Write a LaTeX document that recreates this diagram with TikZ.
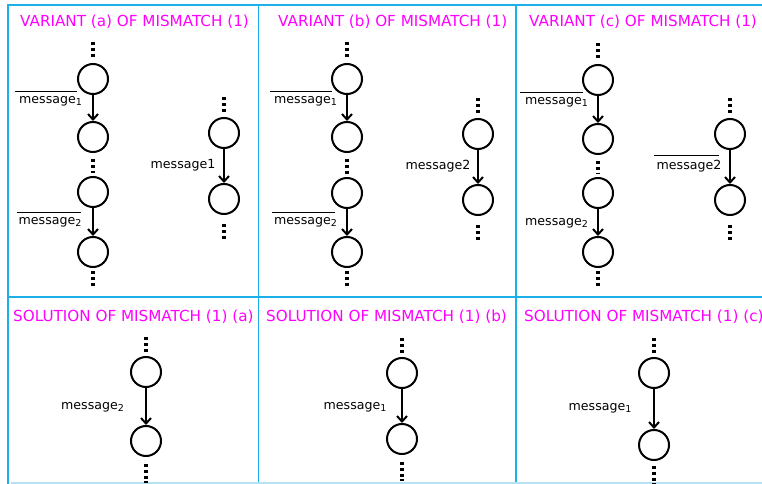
\documentclass[tikz,border=0pt]{standalone}
\usepackage{fontspec}
\setmainfont{DejaVu Sans}
\usetikzlibrary{arrows.meta,calc}
\definecolor{gridblue}{HTML}{1CB0E8}
\definecolor{gridpale}{HTML}{B4E2F2}
\definecolor{titlemag}{HTML}{FF00FF}
\newcommand\sbs[1]{\raisebox{-2.8bp}{\fontsize{9.5bp}{10bp}\selectfont #1}}
\newcommand\dup[3]{\draw[dotline] ($(#1.north)+(0,-#2)$) -- ++(0,-#3);}
\newcommand\ddown[3]{\draw[dotline] ($(#1.south)+(0,#2)$) -- ++(0,#3);}
\newcommand\dbetween[2]{\draw[dotline] ($(#1.south)+(0,6)$) -- ($(#2.north)+(0,-3)$);}
\begin{document}
\begin{tikzpicture}[x=1bp,y=-1bp,
 state/.style={circle,draw,line width=2bp,minimum size=30bp,inner sep=0pt},
 msg/.style={font=\fontsize{12.6bp}{14bp}\selectfont,inner sep=0pt},
 ttl/.style={font=\fontsize{15.2bp}{18bp}\selectfont,text=titlemag,inner sep=0pt,anchor=west},
 flow/.style={line width=2bp,-{Straight Barb[length=5.5bp,width=10bp]}},
 dotline/.style={line width=3.2bp,dash pattern=on 3.2bp off 2.6bp},
 bar/.style={line width=1bp},
 grid/.style={draw=gridblue,line width=1.3bp}]
\useasboundingbox (0,0) rectangle (762,484);
\clip (0,0) rectangle (762,484);

% grid
\draw[grid] (8,484) -- (8,5) -- (762,5);
\draw[grid] (8,297) -- (762,297);
\draw[grid] (258.5,5) -- (258.5,484);
\draw[grid] (516,5) -- (516,484);
\draw[draw=gridpale,line width=1.3bp] (11,483) -- (762,483);

% titles
\node[ttl] (ta) at (20,22) {VARIANT (a) OF MISMATCH (1)};
\node[ttl] (tb) at (278,22) {VARIANT (b) OF MISMATCH (1)};
\node[ttl] (tc) at (529,22) {VARIANT (c) OF MISMATCH (1)};
\node[ttl] (sa) at (13,317) {SOLUTION OF MISMATCH (1) (a)};
\node[ttl] (sb) at (266,317) {SOLUTION OF MISMATCH (1) (b)};
\node[ttl] (sc) at (524,317) {SOLUTION OF MISMATCH (1) (c)};

% ---------- panel a ----------
\node[state] (a1) at (93,79) {};
\node[state] (a2) at (93,137) {};
\node[state] (a3) at (93,192) {};
\node[state] (a4) at (93,252) {};
\dup{a1}{6}{15}
\dbetween{a2}{a3}
\ddown{a4}{3}{16}
\draw[flow] (a1) -- (a2);
\draw[flow] (a3) -- (a4);
\node[msg] (la1) at (50.5,101) {message\sbs{1}};
\node[msg] (la2) at (50,222) {message\sbs{2}};
\draw[bar] ([xshift=-4bp,yshift=4bp]la1.north west) -- ([xshift=-5bp,yshift=4bp]la1.north east);
\draw[bar] ([xshift=-1bp,yshift=4bp]la2.north west) -- ([xshift=-1bp,yshift=4bp]la2.north east);
\node[state] (ar1) at (224,133) {};
\node[state] (ar2) at (224,199) {};
\dup{ar1}{5}{15}
\ddown{ar2}{9}{16}
\draw[flow] (ar1) -- (ar2);
\node[msg] (lar) at (183,165) {message1};

% ---------- panel b ----------
\node[state] (b1) at (347,79) {};
\node[state] (b2) at (347,137) {};
\node[state] (b3) at (347,193) {};
\node[state] (b4) at (347,252) {};
\dup{b1}{6}{15}
\dbetween{b2}{b3}
\ddown{b4}{3}{16}
\draw[flow] (b1) -- (b2);
\draw[flow] (b3) -- (b4);
\node[msg] (lb1) at (305.5,101) {message\sbs{1}};
\node[msg] (lb2) at (305.5,222) {message\sbs{2}};
\draw[bar] ([xshift=-4bp,yshift=4bp]lb1.north west) -- ([xshift=-5bp,yshift=4bp]lb1.north east);
\draw[bar] ([xshift=-2bp,yshift=4bp]lb2.north west) -- ([xshift=-2bp,yshift=4bp]lb2.north east);
\node[state] (br1) at (478,134) {};
\node[state] (br2) at (478,200) {};
\dup{br1}{5}{15}
\ddown{br2}{9}{16}
\draw[flow] (br1) -- (br2);
\node[msg] (lbr) at (438,166) {message2};

% ---------- panel c ----------
\node[state] (c1) at (598,80) {};
\node[state] (c2) at (598,139) {};
\node[state] (c3) at (598,193) {};
\node[state] (c4) at (598,252) {};
\dup{c1}{6}{15}
\dbetween{c2}{c3}
\ddown{c4}{3}{16}
\draw[flow] (c1) -- (c2);
\draw[flow] (c3) -- (c4);
\node[msg] (lc1) at (556.5,102) {message\sbs{1}};
\node[msg] (lc2) at (556.5,223) {message\sbs{2}};
\draw[bar] ([xshift=-5bp,yshift=4bp]lc1.north west) -- ([xshift=-5bp,yshift=4bp]lc1.north east);
\node[state] (cr1) at (730,134) {};
\node[state] (cr2) at (730,200) {};
\dup{cr1}{5}{15}
\ddown{cr2}{9}{16}
\draw[flow] (cr1) -- (cr2);
\node[msg] (lcr) at (689,166) {message2};
\draw[bar] ([xshift=-2bp,yshift=4bp]lcr.north west) -- ([xshift=-3bp,yshift=4bp]lcr.north east);

% ---------- solutions ----------
\node[state] (sa1) at (146,372) {};
\node[state] (sa2) at (146,441) {};
\dup{sa1}{4}{16}
\ddown{sa2}{7}{19}
\draw[flow] (sa1) -- (sa2);
\node[msg] (lsa) at (92.5,407) {message\sbs{2}};

\node[state] (sb1) at (402,373) {};
\node[state] (sb2) at (402,439) {};
\dup{sb1}{4}{16}
\ddown{sb2}{7}{19}
\draw[flow] (sb1) -- (sb2);
\node[msg] (lsb) at (355,407) {message\sbs{1}};

\node[state] (sc1) at (654,373) {};
\node[state] (sc2) at (654,445) {};
\dup{sc1}{4}{16}
\ddown{sc2}{5}{19}
\draw[flow] (sc1) -- (sc2);
\node[msg] (lsc) at (600,408) {message\sbs{1}};
\end{tikzpicture}
\end{document}
